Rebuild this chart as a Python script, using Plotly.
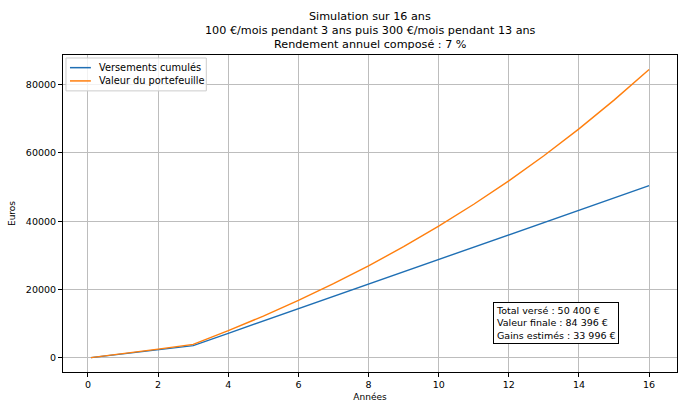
import plotly.graph_objects as go

# Years (first point = month 1)
annees = [1/12, 1, 2, 3, 4, 5, 6, 7, 8, 9, 10, 11, 12, 13, 14, 15, 16]
versements = [100, 1200, 2400, 3600, 7200, 10800, 14400, 18000, 21600, 25200,
              28800, 32400, 36000, 39600, 43200, 46800, 50400]
portefeuille = [100, 1238, 2563, 3980, 7973, 12245, 16817, 21708, 26941, 32541,
                38533, 44945, 51805, 59145, 66999, 75404, 84396]

x_ticks = [0, 2, 4, 6, 8, 10, 12, 14, 16]
y_ticks = [0, 20000, 40000, 60000, 80000]

title_lines = ["Simulation sur 16 ans",
               "100 €/mois pendant 3 ans puis 300 €/mois pendant 13 ans",
               "Rendement annuel composé : 7 %"]
box_lines = ["Total versé : 50 400 €", "Valeur finale : 84 396 €", "Gains estimés : 33 996 €"]
series_names = ["Versements cumulés", "Valeur du portefeuille"]
series_colors = ["#1f6fb4", "#ff7f0e"]

FONT = "DejaVu Sans"
L, R, T, B = 61, 12, 55, 40
W, H = 690, 413
PW, PH = W - L - R, H - T - B


def px_x(p):
    return (p - L) / PW


def px_y(p):
    return (H - B - p) / PH


fig = go.Figure()
for name, ys, col in zip(series_names, [versements, portefeuille], series_colors):
    fig.add_trace(go.Scatter(x=annees, y=ys, mode="lines", name=name,
                             line=dict(color=col, width=1.4), showlegend=False))

xmin, xmax = annees[0], annees[-1]
dx = (xmax - xmin) * 0.05
ymin, ymax = min(versements), max(portefeuille)
dy = (ymax - ymin) * 0.05

axis_common = dict(showline=True, linecolor="black", linewidth=1, mirror=True,
                   ticks="outside", ticklen=4, tickcolor="black", tickwidth=1,
                   showgrid=True, gridcolor="#bdbdbd", gridwidth=1, zeroline=False,
                   tickfont=dict(family=FONT, size=9.5, color="black"))

annotations = []
# title lines
for line, shift in zip(title_lines, [38.5, 24.5, 10.5]):
    annotations.append(dict(text=line, xref="paper", yref="paper", x=0.5, y=1,
                            xanchor="center", yanchor="middle", yshift=shift,
                            showarrow=False, font=dict(family=FONT, size=11.2, color="black")))
# info box
annotations.append(dict(text="<br>".join(box_lines), xref="paper", yref="paper",
                        x=0.70, y=0.088, xanchor="left", yanchor="bottom", align="left",
                        showarrow=False, bordercolor="black", borderwidth=1, borderpad=2,
                        bgcolor="white", font=dict(family=FONT, size=9.5, color="black")))

# manual legend (compact, matplotlib-like)
shapes = [dict(type="rect", xref="paper", yref="paper",
               x0=px_x(64), x1=px_x(205), y0=px_y(91), y1=px_y(58),
               line=dict(color="#cccccc", width=1), fillcolor="rgba(255,255,255,0.8)", layer="above")]
for name, col, yy in zip(series_names, series_colors, [67.7, 81]):
    shapes.append(dict(type="line", xref="paper", yref="paper",
                       x0=px_x(68), x1=px_x(89), y0=px_y(yy), y1=px_y(yy),
                       line=dict(color=col, width=1.5), layer="above"))
    annotations.append(dict(text=name, xref="paper", yref="paper", x=px_x(95), y=px_y(yy),
                            xanchor="left", yanchor="middle", showarrow=False,
                            font=dict(family=FONT, size=9.8, color="black")))

fig.update_layout(
    width=W, height=H,
    margin=dict(l=L, r=R, t=T, b=B),
    paper_bgcolor="white", plot_bgcolor="white",
    font=dict(family=FONT, color="black"),
    xaxis=dict(range=[xmin - dx, xmax + dx], tickvals=x_ticks,
               title=dict(text="Années", font=dict(family=FONT, size=9, color="black"), standoff=4),
               **axis_common),
    yaxis=dict(range=[ymin - dy, ymax + dy], tickvals=y_ticks, tickformat="d",
               title=dict(text="Euros", font=dict(family=FONT, size=9, color="black"), standoff=8),
               **axis_common),
    showlegend=False,
    annotations=annotations,
    shapes=shapes,
)

fig.write_html("out.html")
